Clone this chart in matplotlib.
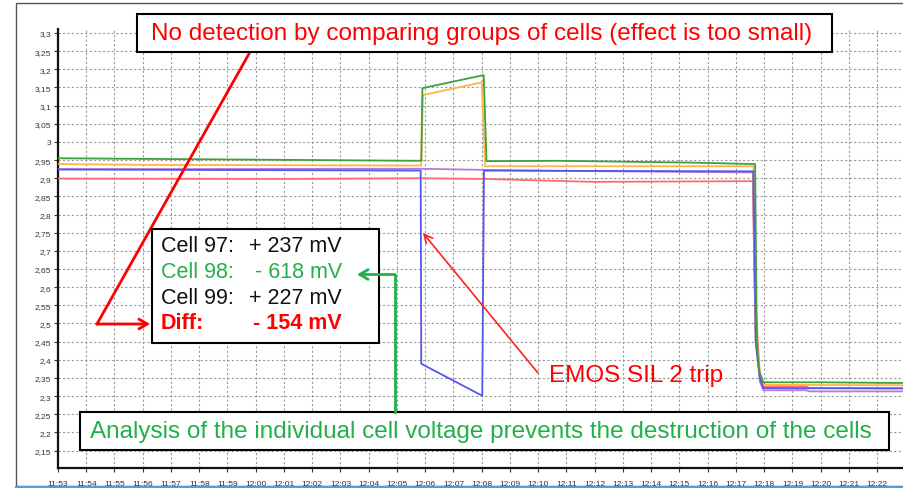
import matplotlib
matplotlib.use("Agg")
import matplotlib.pyplot as plt
from matplotlib.patches import Rectangle, FancyArrowPatch
from matplotlib.ticker import FixedLocator, FuncFormatter

plt.rcParams['font.family'] = ['Liberation Sans', 'DejaVu Sans']

# time in minutes after 11:53
tick_labels = ["11:53", "11:54", "11:55", "11:56", "11:57", "11:58", "11:59", "12:00", "12:01",
               "12:02", "12:03", "12:04", "12:05", "12:06", "12:07", "12:08", "12:09", "12:10",
               "12:11", "12:12", "12:13", "12:14", "12:15", "12:16", "12:17", "12:18", "12:19",
               "12:20", "12:21", "12:22", "12:23"]
y_ticks = [2.15, 2.2, 2.25, 2.3, 2.35, 2.4, 2.45, 2.5, 2.55, 2.6, 2.65, 2.7, 2.75, 2.8, 2.85,
           2.9, 2.95, 3.0, 3.05, 3.1, 3.15, 3.2, 3.25, 3.3]

green_t = [0, 5.5, 12.86, 12.9, 15.07, 15.17, 17.7, 22.5, 24.68, 24.74, 24.82, 24.97, 27.0, 30]
green_v = [2.955, 2.952, 2.948, 3.148, 3.184, 2.947, 2.948, 2.943, 2.939, 2.45, 2.37, 2.338, 2.338, 2.336]

orange_t = [0, 3.0, 12.86, 12.92, 15.0, 15.12, 24.62, 24.68, 24.85, 24.97, 30]
orange_v = [2.939, 2.937, 2.935, 3.129, 3.164, 2.933, 2.933, 2.5, 2.36, 2.331, 2.330]

blue_t = [0, 12.84, 12.86, 15.02, 15.08, 24.62, 24.7, 24.85, 24.97, 30]
blue_v = [2.924, 2.921, 2.389, 2.301, 2.921, 2.919, 2.45, 2.35, 2.322, 2.321]

purple_t = [0, 12.86, 15.1, 18.0, 24.6, 24.7, 24.85, 24.97, 26.5, 26.6, 30]
purple_v = [2.925, 2.926, 2.923, 2.920, 2.916, 2.45, 2.34, 2.316, 2.316, 2.313, 2.313]

red_t = [0, 8.0, 12.8, 15.1, 17.5, 19.0, 24.6, 24.66, 24.85, 24.97, 26.5, 26.6, 30]
red_v = [2.899, 2.898, 2.900, 2.898, 2.893, 2.890, 2.892, 2.6, 2.35, 2.326, 2.326, 2.322, 2.322]

W, H = 904, 489
fig = plt.figure(figsize=(W / 100, H / 100), dpi=100)

def fx(x):
    return x / W

def fy(y):
    return 1 - y / H

# outer frame
fig.patches.append(Rectangle((fx(16), fy(487)), fx(904) - fx(16) + 0.01, fy(4) - fy(487),
                             transform=fig.transFigure, fill=False, ec='#555555', lw=1.0))

ax = fig.add_axes([fx(58), fy(469), fx(904) - fx(58), (469 - 30) / H])
ax.set_xlim(0, 29.95)
ax.set_ylim(2.102, 3.311)

ax.plot(red_t, red_v, color='#ff6b6b', lw=1.3, zorder=3)
ax.plot(purple_t, purple_v, color='#b67ad6', lw=1.3, zorder=3)
ax.plot(blue_t, blue_v, color='#5555f0', lw=1.3, zorder=4)
ax.plot(orange_t, orange_v, color='#ffb545', lw=1.3, zorder=3)
ax.plot(green_t, green_v, color='#3f9f3f', lw=1.3, zorder=5)

ax.xaxis.set_major_locator(FixedLocator(list(range(len(tick_labels)))))
ax.xaxis.set_major_formatter(FuncFormatter(lambda v, p: tick_labels[int(round(v))] if 0 <= int(round(v)) < len(tick_labels) else ""))
ax.yaxis.set_major_locator(FixedLocator(y_ticks))
ax.yaxis.set_major_formatter(FuncFormatter(lambda v, p: (f"{v:.2f}".rstrip('0').rstrip('.')).replace('.', ',')))
ax.tick_params(axis='both', labelsize=6, colors='#333333', length=3, width=0.8, pad=2)
ax.tick_params(axis='x', pad=6)
ax.grid(True, color='#9a9a9a', lw=0.8, ls=(0, (2, 2)))
for s in ['top', 'right']:
    ax.spines[s].set_visible(False)
for s in ['left', 'bottom']:
    ax.spines[s].set_linewidth(1.6)
    ax.spines[s].set_color('#111111')

# bottom blue line of the frame
fig.add_artist(plt.Line2D([fx(16), 1], [fy(488), fy(488)], color='#5b9bd5', lw=1.5, transform=fig.transFigure))

tf = fig.transFigure

# top box
fig.patches.append(Rectangle((fx(137), fy(53)), fx(832) - fx(137), fy(15) - fy(53),
                             transform=tf, fc='white', ec='black', lw=1.5, zorder=10))
fig.text(fx(482), fy(34), "No detection by comparing groups of cells (effect is too small)",
         color='#ff0000', fontsize=17.5, ha='center', va='center', zorder=11)

# red line from top box to cell box
fig.add_artist(plt.Line2D([fx(250), fx(97)], [fy(53), fy(325)], color='#ff0000', lw=2, transform=tf, zorder=9))
fig.add_artist(FancyArrowPatch((fx(97), fy(325)), (fx(150), fy(325)), transform=tf, shrinkA=0, shrinkB=0,
                               arrowstyle='->,head_length=6,head_width=3.5', color='#ff0000', lw=2, zorder=12))

# cell box
fig.patches.append(Rectangle((fx(152), fy(344)), fx(379) - fx(152), fy(230) - fy(344),
                             transform=tf, fc='white', ec='black', lw=1.5, zorder=10))
rows = [("Cell 97:", "+ 237 mV", '#111111', 'normal', 249, 247),
        ("Cell 98:", "- 618 mV", '#22b04a', 'normal', 255, 273),
        ("Cell 99:", "+ 227 mV", '#111111', 'normal', 249, 298),
        ("Diff:", "- 154 mV", '#ff0000', 'bold', 253, 324)]
for lab, val, col, wt, vx, yy in rows:
    fig.text(fx(161), fy(yy), lab, color=col, fontsize=15.5, fontweight=wt, ha='left', va='center', zorder=11)
    fig.text(fx(vx), fy(yy), val, color=col, fontsize=15.5, fontweight=wt, ha='left', va='center', zorder=11)

# green arrow
fig.add_artist(plt.Line2D([fx(395), fx(395)], [fy(413), fy(275.5)], color='#22b04a', lw=2, transform=tf, zorder=12))
fig.add_artist(FancyArrowPatch((fx(395), fy(275.5)), (fx(357), fy(275.5)), transform=tf, shrinkA=0, shrinkB=0,
                               arrowstyle='->,head_length=6,head_width=3.5', color='#22b04a', lw=2, zorder=12))

# bottom box
fig.patches.append(Rectangle((fx(80), fy(451)), fx(889) - fx(80), fy(413) - fy(451),
                             transform=tf, fc='white', ec='black', lw=1.5, zorder=10))
fig.text(fx(481), fy(432), "Analysis of the individual cell voltage prevents the destruction of the cells",
         color='#22b04a', fontsize=17.5, ha='center', va='center', zorder=11)

# EMOS annotation
fig.add_artist(FancyArrowPatch((fx(538), fy(374)), (fx(423), fy(234)), transform=tf, shrinkA=0, shrinkB=0,
                               arrowstyle='->,head_length=6,head_width=3', color='#ff2020', lw=1.2, zorder=9))
fig.text(fx(549), fy(376), "EMOS SIL 2 trip", color='#ff0000', fontsize=17.5, ha='left', va='center', zorder=11)

fig.savefig("out.png", dpi=100)
